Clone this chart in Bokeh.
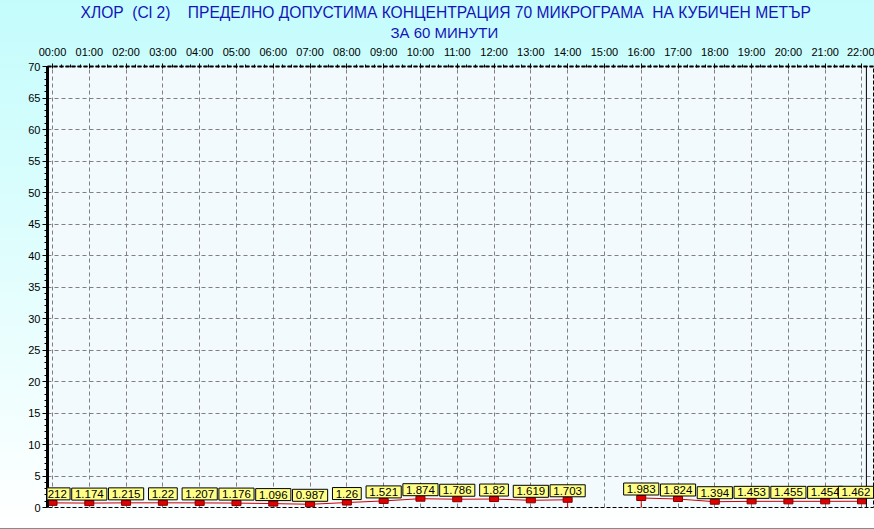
from bokeh.plotting import figure
from bokeh.models import (ColumnDataSource, Title, Range1d, FixedTicker, LabelSet, Span,
                          SingleIntervalTicker)
from bokeh.core.properties import value
from bokeh.embed import file_html
from bokeh.resources import INLINE

# ---- data ----
hours = list(range(23))
hour_labels = ["00:00", "01:00", "02:00", "03:00", "04:00", "05:00", "06:00", "07:00",
               "08:00", "09:00", "10:00", "11:00", "12:00", "13:00", "14:00", "15:00",
               "16:00", "17:00", "18:00", "19:00", "20:00", "21:00", "22:00"]
values = [1.212, 1.174, 1.215, 1.22, 1.207, 1.176, 1.096, 0.987, 1.26, 1.521, 1.874,
          1.786, 1.82, 1.619, 1.703, None, 1.983, 1.824, 1.394, 1.453, 1.455, 1.454, 1.462]
title_line1 = "ХЛОР  (Cl 2)    ПРЕДЕЛНО ДОПУСТИМА КОНЦЕНТРАЦИЯ 70 МИКРОГРАМА  НА КУБИЧЕН МЕТЪР"
title_line2 = "ЗА 60 МИНУТИ"
y_max = 70
x_start, x_end = -0.136, 22.12      # hour range of the drawn frame
x_canvas_end = 22.34                # the frame runs on to the canvas edge

FONT = "Liberation Sans"
NB = "\u00a0"

p = figure(width=874, height=529, output_backend="svg", toolbar_location=None,
           x_range=Range1d(x_start, x_canvas_end), y_range=Range1d(0, y_max),
           x_axis_location="above", min_border_left=47, min_border_right=0,
           min_border_top=66, min_border_bottom=22)
p.title = None
p.border_fill_color = None
p.styles = {"background": "linear-gradient(to bottom, #C4FCFC 0%, #FFFFFF 100%)",
            "box-shadow": "inset 0 -1px 0 #8A8A8A"}
p.background_fill_color = "#F2FAFE"
p.outline_line_color = "black"
p.outline_line_dash = "4 2"
p.outline_line_width = 1

# series range shifted a few px lower (marker placement like original)
p.extra_y_ranges = {"s": Range1d(0.476, y_max + 0.476)}

# top axis
xa = p.xaxis[0]
xa.ticker = FixedTicker(ticks=hours,
                        minor_ticks=[h + q / 4 for h in hours[:-1] for q in range(1, 4)])
xa.major_label_overrides = {h: lab for h, lab in zip(hours, hour_labels)}
xa.major_label_text_font = FONT
xa.major_label_text_font_size = "11px"
xa.major_label_text_color = "black"
xa.major_label_standoff = 6
xa.axis_line_color = "black"
xa.axis_line_width = 2
xa.axis_line_dash = "4 2"
xa.major_tick_out = 3
xa.major_tick_in = 2
xa.minor_tick_out = 2
xa.minor_tick_in = 1
xa.major_tick_line_color = "black"
xa.minor_tick_line_color = "black"

# left axis
ya = p.yaxis[0]
ya.ticker = SingleIntervalTicker(interval=5, num_minor_ticks=5)
ya.major_label_text_font = FONT
ya.major_label_text_font_size = "11px"
ya.major_label_text_color = "black"
ya.major_label_standoff = 2
ya.axis_line_color = "black"
ya.axis_line_width = 3
ya.major_tick_out = 5
ya.major_tick_in = 0
ya.minor_tick_out = 3
ya.minor_tick_in = 0
ya.major_tick_line_color = "black"
ya.minor_tick_line_color = "black"

# right frame line
p.add_layout(Span(location=x_end, dimension="height", line_color="black", line_width=1))

# grid
p.xgrid.ticker = FixedTicker(ticks=hours)
p.ygrid.ticker = SingleIntervalTicker(interval=5)
for g in (p.xgrid, p.ygrid):
    g.grid_line_color = "#808080"
    g.grid_line_dash = "4 3"
    g.grid_line_width = 1

# series line (NaN breaks at the gap)
yv = [float("nan") if v is None else v for v in values]
p.line(hours, yv, line_color="#D00000", line_width=1, y_range_name="s")

# drop lines beside the gap
dx, dy = [], []
for i, v in enumerate(values):
    if v is None:
        continue
    prev_missing = i > 0 and values[i - 1] is None
    next_missing = i < len(values) - 1 and values[i + 1] is None
    if prev_missing or next_missing:
        dx.append(hours[i]); dy.append(v)
p.segment(x0=dx, y0=dy, x1=dx, y1=[0] * len(dx), line_color="#D00000", line_width=1,
          y_range_name="s")

# point markers
px = [h for h, v in zip(hours, values) if v is not None]
py = [v for v in values if v is not None]
p.rect(px, py, width=9, height=5, width_units="screen", height_units="screen",
       fill_color="#E00000", line_color="#800000", line_width=1, y_range_name="s")

# value labels (boxed marks); the last one is nudged left to stay inside the canvas
xoff = [0] * len(px)
xoff[-1] = -6
src = ColumnDataSource(dict(x=px, y=py, xo=xoff, t=[NB + str(v) + NB for v in py]))
labels = LabelSet(x="x", y="y", text="t", source=src, x_offset="xo", y_offset=0,
                  text_align="center", text_baseline="bottom", text_font=value(FONT),
                  text_font_size="11.5px", text_color="black",
                  background_fill_color="#FFFF88", border_line_color="black",
                  border_line_width=1)
p.add_layout(labels)

# title (two lines, placed like the original)
for txt, so, off, fs in ((title_line2, 3, 343, "15px"),
                         (title_line1.replace(" ", NB), 0, 33, "15.6px")):
    p.add_layout(Title(text=txt, align="left", offset=off,
                       text_font=FONT, text_font_size=fs, text_font_style="normal",
                       text_color="#1414B8", standoff=so), "above")

open("out.html", "w").write(file_html(p, INLINE))
